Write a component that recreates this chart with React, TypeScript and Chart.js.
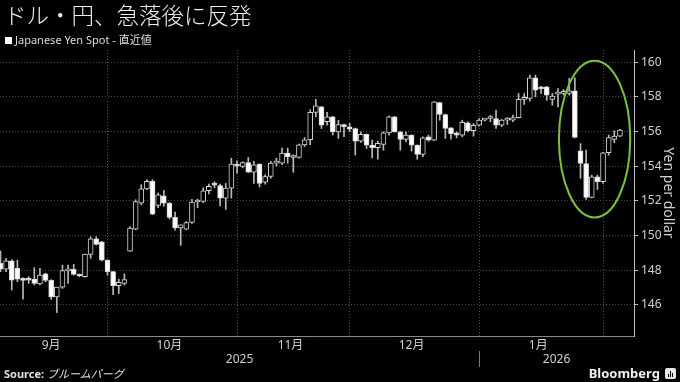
import React, { useEffect, useRef } from 'react';
import { Chart, registerables } from 'chart.js';

Chart.register(...registerables);

// Trading days shown on the chart
const dates = [
  '2025-09-04','2025-09-05','2025-09-08','2025-09-09','2025-09-10','2025-09-11','2025-09-12','2025-09-15','2025-09-16','2025-09-17',
  '2025-09-18','2025-09-19','2025-09-22','2025-09-23','2025-09-24','2025-09-25','2025-09-26','2025-09-29','2025-09-30',
  '2025-10-01','2025-10-02','2025-10-03','2025-10-06','2025-10-07','2025-10-08','2025-10-09','2025-10-10','2025-10-13','2025-10-14',
  '2025-10-15','2025-10-16','2025-10-17','2025-10-20','2025-10-21','2025-10-22','2025-10-23','2025-10-24','2025-10-27','2025-10-28',
  '2025-10-29','2025-10-30','2025-10-31',
  '2025-11-03','2025-11-04','2025-11-05','2025-11-06','2025-11-07','2025-11-10','2025-11-11','2025-11-12','2025-11-13','2025-11-14',
  '2025-11-17','2025-11-18','2025-11-19','2025-11-20','2025-11-21','2025-11-24','2025-11-25','2025-11-26','2025-11-27','2025-11-28',
  '2025-12-01','2025-12-02','2025-12-03','2025-12-04','2025-12-05','2025-12-08','2025-12-09','2025-12-10','2025-12-11','2025-12-12',
  '2025-12-15','2025-12-16','2025-12-17','2025-12-18','2025-12-19','2025-12-22','2025-12-23','2025-12-24','2025-12-25','2025-12-26',
  '2025-12-29','2025-12-30','2025-12-31',
  '2026-01-01','2026-01-02','2026-01-05','2026-01-06','2026-01-07','2026-01-08','2026-01-09','2026-01-12','2026-01-13','2026-01-14',
  '2026-01-15','2026-01-16','2026-01-19','2026-01-20','2026-01-21','2026-01-22','2026-01-23','2026-01-26','2026-01-27','2026-01-28',
  '2026-01-29','2026-01-30',
  '2026-02-02','2026-02-03','2026-02-04','2026-02-05',
];

const opens = [
  148.39,148.06,148.53,148.10,147.52,147.46,147.48,147.21,147.79,147.41,
  146.46,147.02,147.96,148.04,147.75,147.62,148.91,149.80,149.64,148.58,
  147.91,147.10,147.23,149.10,150.36,151.86,152.69,153.12,151.73,152.29,
  151.87,151.04,150.43,150.37,150.75,151.93,151.96,152.58,153.00,152.88,
  152.15,152.73,154.12,153.98,154.20,153.65,154.12,153.08,153.40,154.17,
  154.17,154.75,154.50,154.50,155.23,155.52,157.10,157.42,156.56,156.85,
  155.98,156.40,156.27,156.17,155.44,155.83,155.21,155.06,155.25,155.92,
  156.85,155.98,155.54,155.79,155.21,154.67,155.69,155.50,157.67,156.98,
  156.21,155.92,155.79,156.50,156.04,156.37,156.65,156.75,156.75,156.37,
  156.65,156.65,156.80,157.85,157.90,159.10,158.50,158.58,157.85,158.15,
  158.20,158.19,158.35,154.88,154.15,152.19,153.38,153.10,154.77,155.54,
  155.73,
];
const highs = [
  149.10,148.68,148.60,148.58,147.56,147.62,148.14,148.10,147.83,147.45,
  147.02,148.29,148.29,148.33,147.78,148.93,149.93,149.93,149.66,148.60,
  147.93,147.48,147.79,150.51,152.06,152.93,153.22,153.22,152.45,152.60,
  151.90,151.35,150.62,150.80,152.08,152.10,152.75,152.96,153.10,152.96,
  153.00,154.46,154.30,154.25,154.50,154.27,154.14,153.50,154.27,154.46,
  155.04,155.04,154.65,155.27,155.65,157.25,157.86,157.45,157.10,156.88,
  156.65,156.42,156.46,156.20,155.98,155.86,155.50,155.44,155.98,156.90,
  156.88,156.00,155.98,155.81,155.23,155.69,155.79,157.73,157.69,157.00,
  156.23,155.98,156.65,156.56,156.46,156.75,156.72,156.94,157.23,156.70,
  156.80,156.94,158.19,158.19,159.25,159.25,158.60,158.60,158.19,158.48,
  158.42,159.06,159.10,155.30,154.92,153.48,153.48,154.80,155.79,156.04,
  156.12,
];
const lows = [
  147.91,147.91,146.85,147.33,146.32,147.23,147.14,147.14,147.33,146.32,
  145.55,146.94,147.23,147.71,147.62,147.60,148.68,149.45,148.53,147.71,
  146.59,146.65,147.14,149.08,150.32,151.77,152.64,151.20,151.60,151.68,
  150.95,150.30,149.43,150.33,150.70,151.60,151.90,152.40,152.75,151.70,
  151.50,152.15,153.60,153.90,153.62,153.00,152.80,152.96,153.30,154.00,
  154.08,154.17,153.65,154.46,155.13,155.23,156.85,156.17,156.36,155.80,
  155.60,155.70,155.98,154.64,155.37,155.02,154.48,154.40,154.92,155.79,
  155.96,154.92,155.40,154.87,154.40,154.54,155.44,155.48,156.65,155.60,
  155.56,155.63,155.69,155.98,155.73,156.30,156.60,156.56,156.17,156.27,
  156.40,156.56,156.78,157.56,157.75,158.00,158.19,157.80,157.52,157.42,
  158.10,158.10,155.63,153.30,152.08,152.17,152.65,153.00,154.63,155.35,
  155.70,
];
const closes = [
  148.06,148.53,147.42,147.48,147.41,147.42,147.23,147.71,147.41,146.46,
  147.02,147.98,148.00,147.75,147.66,148.93,149.80,149.49,148.58,147.91,
  147.10,147.29,147.46,150.42,151.96,152.69,153.12,151.23,152.35,151.87,
  151.04,150.43,150.62,150.75,151.93,152.00,152.58,152.83,152.90,152.15,
  152.73,154.12,154.00,154.20,153.65,154.08,153.00,153.40,154.17,154.22,
  154.75,154.54,154.55,155.23,155.52,157.11,157.48,156.36,156.85,155.98,
  156.40,156.27,156.13,155.44,155.83,155.21,155.06,155.31,155.92,156.85,
  155.98,155.54,155.79,155.21,154.67,155.63,155.50,157.71,156.98,156.17,
  155.88,155.79,156.52,156.04,156.35,156.65,156.70,156.80,156.37,156.65,
  156.70,156.80,157.85,157.90,159.10,158.38,158.46,158.10,158.04,158.19,
  158.25,158.35,155.65,154.15,152.19,153.38,153.10,154.77,155.65,155.73,
  156.08,
];

const monthNames = ['1月','2月','3月','4月','5月','6月','7月','8月','9月','10月','11月','12月'];
const yTicks = [146, 148, 150, 152, 154, 156, 158, 160];
const yRange = [144.2, 160.7];
const xRange = [-0.09, 112.5];
// highlighted zone (data units: trading-day index / yen)
const highlight = { centerIndex: 105.5, centerPrice: 155.56, halfDays: 6.33, halfYen: 4.52 };

const titleText = 'ドル・円、急落後に反発';
const legendText = 'Japanese Yen Spot - 直近値';
const axisTitle = 'Yen per dollar';

// ---- derived month / year groupings ----
type Group = { key: string; first: number; idx: number[] };
function groupBy(keyFn: (d: string) => string): Group[] {
  const out: Group[] = [];
  dates.forEach((d, i) => {
    const k = keyFn(d);
    const last = out[out.length - 1];
    if (last && last.key === k) last.idx.push(i);
    else out.push({ key: k, first: i, idx: [i] });
  });
  return out;
}
const months = groupBy((d) => d.slice(0, 7));
const years = groupBy((d) => d.slice(0, 4));
const monthBoundaries = months.slice(1).map((g) => g.first);
const monthLabelTicks = months
  .filter((g) => g.idx.length >= 10)
  .map((g) => ({
    value: g.idx.reduce((a, b) => a + b, 0) / g.idx.length,
    label: monthNames[parseInt(g.key.slice(5, 7), 10) - 1],
  }));
const yearBoundaries = years.slice(1).map((g) => g.first);
const yearLabelTicks = years.map((g, k) => {
  const s = k === 0 ? xRange[0] : g.first;
  const e = k < years.length - 1 ? years[k + 1].first : xRange[1];
  return { value: (s + e) / 2, label: g.key };
});

const FONT = '"Noto Sans", "Noto Sans CJK JP", sans-serif';

export default function App() {
  const ref = useRef<HTMLCanvasElement | null>(null);

  useEffect(() => {
    document.body.style.margin = '0';
    document.body.style.background = '#000';
    const canvas = ref.current;
    if (!canvas) return;

    const ellipsePlugin = {
      id: 'highlightEllipse',
      afterDatasetsDraw(chart: any) {
        const { ctx, scales } = chart;
        const xs = scales.x;
        const ys = scales.y;
        const cx = xs.getPixelForValue(highlight.centerIndex);
        const cy = ys.getPixelForValue(highlight.centerPrice);
        const rx = Math.abs(xs.getPixelForValue(highlight.centerIndex + highlight.halfDays) - cx);
        const ry = Math.abs(ys.getPixelForValue(highlight.centerPrice + highlight.halfYen) - cy);
        ctx.save();
        ctx.strokeStyle = '#7cc242';
        ctx.lineWidth = 2;
        ctx.beginPath();
        ctx.ellipse(cx, cy, rx, ry, 0, 0, Math.PI * 2);
        ctx.stroke();
        ctx.restore();
      },
    };

    const monthTickSet = [
      ...monthBoundaries.map((v) => ({ value: v, label: '' })),
      ...monthLabelTicks,
    ].sort((a, b) => a.value - b.value);
    const yearTickSet = [
      ...yearBoundaries.map((v) => ({ value: v, label: '' })),
      ...yearLabelTicks,
    ].sort((a, b) => a.value - b.value);

    const chart = new Chart(canvas, {
      type: 'bar',
      data: {
        datasets: [
          {
            label: 'body',
            data: dates.map((_, i) => ({ x: i, y: [opens[i], closes[i]] })) as any,
            backgroundColor: dates.map((_, i) => (closes[i] < opens[i] ? '#ffffff' : '#000000')),
            borderColor: '#d4d4d4',
            borderWidth: 1,
            borderSkipped: false,
            barThickness: 5,
            minBarLength: 2,
            grouped: false,
            order: 0,
          } as any,
          {
            label: 'wick',
            data: dates.map((_, i) => ({ x: i, y: [lows[i], highs[i]] })) as any,
            backgroundColor: '#b8b8b8',
            borderWidth: 0,
            barThickness: 1,
            grouped: false,
            order: 1,
          } as any,
        ],
      },
      options: {
        animation: false,
        responsive: false,
        maintainAspectRatio: false,
        layout: { padding: { top: 50, bottom: 16, left: 0, right: 0 } },
        plugins: { legend: { display: false }, tooltip: { enabled: false } },
        scales: {
          x: {
            type: 'linear',
            position: 'bottom',
            offset: false,
            min: xRange[0],
            max: xRange[1],
            afterBuildTicks: (s: any) => {
              s.ticks = monthTickSet.map((t) => ({ value: t.value }));
            },
            afterFit: (s: any) => {
              s.height = 15;
            },
            grid: {
              offset: false,
              color: (c: any) => (c.tick && monthBoundaries.includes(c.tick.value) ? '#505050' : 'rgba(0,0,0,0)'),
              drawTicks: false,
              lineWidth: 1,
            },
            border: { display: true, color: '#8a8a8a', dash: [1, 2] },
            ticks: {
              autoSkip: false,
              maxRotation: 0,
              padding: 2,
              color: '#d0d0d0',
              font: { family: FONT, size: 12 },
              callback: (v: any) => {
                const t = monthTickSet.find((m) => Math.abs(m.value - v) < 1e-6);
                return t ? t.label : '';
              },
            },
          },
          xYear: {
            type: 'linear',
            position: 'bottom',
            offset: false,
            min: xRange[0],
            max: xRange[1],
            afterBuildTicks: (s: any) => {
              s.ticks = yearTickSet.map((t) => ({ value: t.value }));
            },
            afterFit: (s: any) => {
              s.height = 15;
            },
            grid: {
              offset: false,
              drawOnChartArea: false,
              drawTicks: true,
              tickLength: 16,
              color: 'rgba(0,0,0,0)',
              tickColor: (c: any) => (c.tick && yearBoundaries.includes(c.tick.value) ? '#7a7a7a' : 'rgba(0,0,0,0)'),
            },
            border: { display: false },
            ticks: {
              autoSkip: false,
              maxRotation: 0,
              padding: -15,
              color: '#d0d0d0',
              font: { family: FONT, size: 12 },
              callback: (v: any) => {
                const t = yearTickSet.find((m) => Math.abs(m.value - v) < 1e-6);
                return t ? t.label : '';
              },
            },
          },
          y: {
            type: 'linear',
            position: 'right',
            min: yRange[0],
            max: yRange[1],
            afterBuildTicks: (s: any) => {
              s.ticks = yTicks.map((v) => ({ value: v }));
            },
            afterFit: (s: any) => {
              s.width = 46;
            },
            grid: { color: '#4a4a4a', lineWidth: 1, tickLength: 4, tickColor: '#bdbdbd' },
            border: { display: true, color: '#bdbdbd', dash: [1, 2] },
            ticks: { color: '#d0d0d0', padding: 3, font: { family: FONT, size: 12 } },
            title: {
              display: true,
              text: axisTitle,
              color: '#d0d0d0',
              font: { family: FONT, size: 14 },
              padding: { top: 4, bottom: 0 },
            },
          },
        },
      },
      plugins: [ellipsePlugin],
    } as any);

    return () => chart.destroy();
  }, []);

  return (
    <div
      style={{
        position: 'fixed',
        left: 0,
        top: 0,
        width: 680,
        height: 382,
        background: '#000',
        overflow: 'hidden',
        fontFamily: FONT,
      }}
    >
      <canvas ref={ref} width={680} height={382} style={{ position: 'absolute', left: 0, top: 0, width: 680, height: 382 }} />
      <div
        style={{
          position: 'absolute',
          left: 4,
          top: 0,
          fontSize: 22.5,
          lineHeight: '28px',
          color: '#f0f0f0',
          fontWeight: 300,
          fontFamily: '"Noto Sans CJK JP", sans-serif',
          whiteSpace: 'nowrap',
        }}
      >
        {titleText}
      </div>
      <div
        style={{
          position: 'absolute',
          left: 5,
          top: 33,
          fontSize: 11,
          lineHeight: '14px',
          color: '#dcdcdc',
          display: 'flex',
          alignItems: 'center',
          whiteSpace: 'nowrap',
        }}
      >
        <span style={{ display: 'inline-block', width: 7, height: 7, background: '#fff', marginRight: 3 }} />
        <span>{legendText}</span>
      </div>
      <div
        style={{
          position: 'absolute',
          left: 4,
          top: 367,
          fontSize: 11,
          lineHeight: '14px',
          color: '#e0e0e0',
          whiteSpace: 'nowrap',
        }}
      >
        <span style={{ fontWeight: 700 }}>Source: </span>
        <span style={{ fontStyle: 'italic' }}>ブルームバーグ</span>
      </div>
      <div
        style={{
          position: 'absolute',
          right: 4,
          top: 365,
          fontSize: 13,
          lineHeight: '16px',
          color: '#f0f0f0',
          fontWeight: 700,
          display: 'flex',
          alignItems: 'center',
          whiteSpace: 'nowrap',
        }}
      >
        <span>Bloomberg</span>
        <span
          style={{
            display: 'inline-flex',
            alignItems: 'flex-end',
            justifyContent: 'center',
            gap: 1,
            width: 11,
            height: 11,
            marginLeft: 5,
            background: '#e8e8e8',
            borderRadius: 2,
            paddingBottom: 2,
            boxSizing: 'border-box',
          }}
        >
          <span style={{ width: 1, height: 3, background: '#000' }} />
          <span style={{ width: 1, height: 6, background: '#000' }} />
          <span style={{ width: 1, height: 4, background: '#000' }} />
        </span>
      </div>
    </div>
  );
}
